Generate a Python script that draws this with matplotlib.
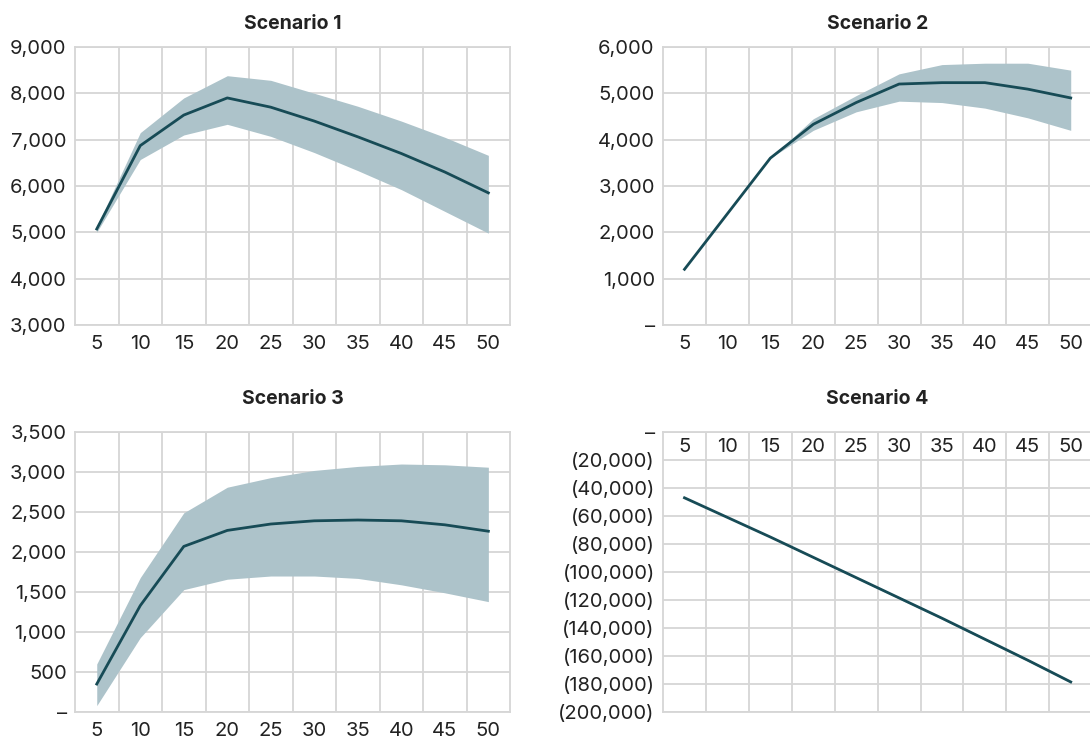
import numpy as np
import matplotlib
matplotlib.use('Agg')
import matplotlib.pyplot as plt
from matplotlib.ticker import FuncFormatter, MultipleLocator

plt.rcParams['font.family'] = ['Inter', 'DejaVu Sans']

# Data
years = [5, 10, 15, 20, 25, 30, 35, 40, 45, 50]

s1_mid = [5070, 6870, 7530, 7900, 7700, 7400, 7060, 6700, 6300, 5850]
s1_hi = [5120, 7150, 7900, 8380, 8280, 8000, 7720, 7400, 7050, 6660]
s1_lo = [5000, 6570, 7100, 7330, 7070, 6720, 6330, 5920, 5450, 4980]

s2_mid = [1200, 2400, 3600, 4330, 4800, 5200, 5230, 5230, 5090, 4900]
s2_hi = [1200, 2400, 3600, 4450, 4950, 5420, 5620, 5650, 5650, 5500]
s2_lo = [1200, 2400, 3600, 4200, 4600, 4830, 4800, 4680, 4470, 4200]

s3_mid = [350, 1330, 2070, 2270, 2350, 2390, 2400, 2390, 2340, 2260]
s3_hi = [600, 1680, 2490, 2810, 2930, 3020, 3070, 3100, 3090, 3060]
s3_lo = [80, 930, 1530, 1660, 1700, 1700, 1670, 1590, 1490, 1380]

s4_mid = [-47000, -61000, -75000, -89500, -104000, -118500, -133000, -148000, -163000, -178500]
s4_hi = [-46800, -60700, -74600, -89000, -103400, -117800, -132300, -147200, -162200, -177700]
s4_lo = [-47200, -61300, -75400, -90000, -104600, -119200, -133700, -148800, -163800, -179300]

titles = ['Scenario 1', 'Scenario 2', 'Scenario 3', 'Scenario 4']
ylims = [(3000, 9000), (0, 6000), (0, 3500), (-200000, 0)]
ysteps = [1000, 1000, 500, 20000]

LINE = '#174b56'
BAND = '#adc3ca'
GRID = '#d6d6d6'
TEXT = '#222222'


def acct(v, pos):
    if abs(v) < 1e-9:
        return '\u2013'
    if v < 0:
        return '({:,.0f})'.format(-v)
    return '{:,.0f}'.format(v)


fig = plt.figure(figsize=(10.9, 7.4), dpi=100)
positions = [
    [0.0688, 0.561, 0.3992, 0.3755],
    [0.6083, 0.561, 0.3937, 0.3755],
    [0.0688, 0.0378, 0.3992, 0.3784],
    [0.6083, 0.0378, 0.3937, 0.3784],
]
series = [(s1_mid, s1_hi, s1_lo), (s2_mid, s2_hi, s2_lo),
          (s3_mid, s3_hi, s3_lo), (s4_mid, s4_hi, s4_lo)]
pads = [13, 13, 20, 20]

x = np.arange(len(years))
for i in range(4):
    ax = fig.add_axes(positions[i])
    mid, hi, lo = series[i]
    ax.fill_between(x, lo, hi, color=BAND, linewidth=0, zorder=2)
    ax.plot(x, mid, color=LINE, linewidth=2, zorder=3)

    ax.set_xlim(-0.5, len(years) - 0.5)
    ax.set_ylim(*ylims[i])
    ax.yaxis.set_major_locator(MultipleLocator(ysteps[i]))
    ax.yaxis.set_major_formatter(FuncFormatter(acct))
    ax.set_xticks(x)
    ax.set_xticklabels([str(y) for y in years])
    ax.set_xticks(x[:-1] + 0.5, minor=True)

    ax.grid(True, axis='y', which='major', color=GRID, linewidth=1.3, zorder=0)
    ax.grid(True, axis='x', which='minor', color=GRID, linewidth=1.3, zorder=0)
    ax.set_axisbelow(True)
    for sp in ax.spines.values():
        sp.set_color(GRID)
        sp.set_linewidth(1.3)

    ax.tick_params(axis='both', which='both', length=0, labelsize=14.5,
                   labelcolor=TEXT)
    ax.tick_params(axis='x', pad=7)
    ax.tick_params(axis='y', pad=6)

    if i == 3:
        ax.xaxis.tick_top()
        ax.tick_params(axis='x', which='both', length=0, pad=-11)
        for lbl in ax.get_xticklabels():
            lbl.set_va('center')

    ax.set_title(titles[i], fontsize=14, fontweight='bold', color=TEXT,
                 pad=pads[i])

fig.savefig('out.png', dpi=100)
